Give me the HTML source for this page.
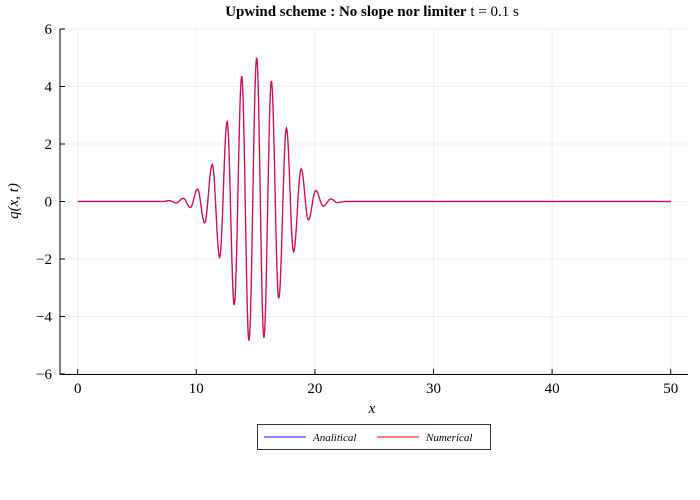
<!DOCTYPE html>
<html><head><meta charset="utf-8">
<style>
html,body{margin:0;padding:0;background:#fff;}
svg{display:block;font-family:"Liberation Serif",serif;}
</style></head>
<body>
<svg id="chart" width="700" height="500" viewBox="0 0 700 500">
  <text x="372" y="16" text-anchor="middle" font-size="15"><tspan font-weight="bold">Upwind scheme :  No slope nor limiter</tspan>   t = 0.1 s</text>
  <g id="grid"></g>
  <g id="axes"></g>
  <g id="series"></g>
  <text x="372" y="413" text-anchor="middle" font-size="15" font-style="italic">x</text>
  <text transform="translate(18,201) rotate(-90)" text-anchor="middle" font-size="15" font-style="italic">q(x, t)</text>
  <g>
    <rect x="257.5" y="424.5" width="233" height="25" fill="#fff" stroke="#333" stroke-width="1"/>
    <g>
      <line x1="264" y1="437" x2="306" y2="437" stroke="#6060ff" stroke-width="1.5"/>
      <text x="313" y="441" font-size="11" font-style="italic">Analitical</text>
    </g>
    <g>
      <line x1="377" y1="437" x2="419" y2="437" stroke="#ff5050" stroke-width="1.5"/>
      <text x="426" y="441" font-size="11" font-style="italic">Numerical</text>
    </g>
  </g>
</svg>
<script>
const xTicks = [0, 10, 20, 30, 40, 50];
const yTicks = [-6, -4, -2, 0, 2, 4, 6];
const yTickLabels = ["\u22126", "\u22124", "\u22122", "0", "2", "4", "6"];
const extremaX = [0, 7.2, 7.7, 8.3, 8.9, 9.5, 10.1, 10.7, 11.35, 11.97, 12.6, 13.2, 13.83, 14.44, 15.09, 15.7, 16.33, 16.95, 17.6, 18.2, 18.84, 19.45, 20.07, 20.7, 21.35, 21.9, 22.5, 50];
const analyticalY = [0, 0, 0.03, -0.05, 0.11, -0.21, 0.43, -0.74, 1.29, -1.94, 2.78, -3.6, 4.36, -4.84, 5.0, -4.74, 4.19, -3.37, 2.55, -1.75, 1.13, -0.64, 0.38, -0.16, 0.09, -0.04, 0, 0];
const numericalY = [0, 0, 0.03, -0.05, 0.11, -0.21, 0.43, -0.74, 1.29, -1.94, 2.78, -3.6, 4.36, -4.84, 5.0, -4.74, 4.19, -3.37, 2.55, -1.75, 1.13, -0.64, 0.38, -0.16, 0.09, -0.04, 0, 0];

const X0 = 77.7, XS = 11.86;
const yScale = v => 201.5 - v * 28.75;
const xScale = v => X0 + v * XS;
const NS = "http://www.w3.org/2000/svg";
const grid = document.getElementById('grid');
const axes = document.getElementById('axes');
const series = document.getElementById('series');
function mk(tag, attrs, parent) {
  const e = document.createElementNS(NS, tag);
  for (const k in attrs) e.setAttribute(k, attrs[k]);
  parent.appendChild(e);
  return e;
}
xTicks.forEach(t => {
  const l = mk('line', {x1: xScale(t), x2: xScale(t), y1: 29, y2: 374, stroke: '#000', 'stroke-opacity': 0.06, 'stroke-width': 1}, grid);
  
  
  const tk = mk('line', {x1: xScale(t), x2: xScale(t), y1: 374, y2: 369, stroke: '#000', 'stroke-width': 1}, axes);
  
  
  const tx = mk('text', {x: xScale(t), y: 393, 'text-anchor': 'middle', 'font-size': 15}, axes);
  tx.textContent = t;
  
  
});
yTicks.forEach((t, i) => {
  const l = mk('line', {x1: 60, x2: 688, y1: yScale(t), y2: yScale(t), stroke: '#000', 'stroke-opacity': 0.06, 'stroke-width': 1}, grid);
  
  
  const tk = mk('line', {x1: 60, x2: 65, y1: yScale(t), y2: yScale(t), stroke: '#000', 'stroke-width': 1}, axes);
  
  
  const tx = mk('text', {x: 52, y: yScale(t) + 5, 'text-anchor': 'end', 'font-size': 15}, axes);
  tx.textContent = yTickLabels[i];
  
  
});
const ax = mk('path', {d: 'M60,29 L60,374.5 L688,374.5', fill: 'none', stroke: '#000', 'stroke-width': 1}, axes);



function buildPath(xs, ys) {
  let d = 'M' + xScale(xs[0]).toFixed(2) + ',' + yScale(ys[0]).toFixed(2);
  for (let i = 0; i < xs.length - 1; i++) {
    const steps = 16;
    for (let s = 1; s <= steps; s++) {
      const t = s / steps;
      const w = (1 - Math.cos(Math.PI * t)) / 2;
      const xv = xs[i] + (xs[i + 1] - xs[i]) * t;
      const yv = ys[i] + (ys[i + 1] - ys[i]) * w;
      d += ' L' + xScale(xv).toFixed(2) + ',' + yScale(yv).toFixed(2);
    }
  }
  return d;
}
const pa = mk('path', {d: buildPath(extremaX, analyticalY), fill: 'none', stroke: '#5050ff', 'stroke-width': 1.4}, series);


const pn = mk('path', {d: buildPath(extremaX, numericalY), fill: 'none', stroke: '#ff0020', 'stroke-width': 1}, series);


</script>
</body></html>
